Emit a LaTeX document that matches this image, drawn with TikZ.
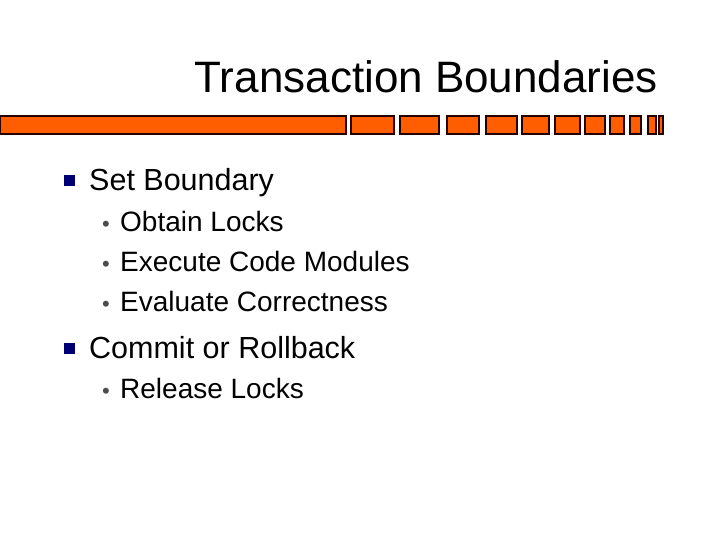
\documentclass[tikz,border=0pt]{standalone}
\usepackage{fontspec}
\setmainfont{Liberation Sans}
\begin{document}
\begin{tikzpicture}[x=1pt,y=-1pt,
  seg/.style={draw=black!85!red,line width=2pt,fill=orange!60!red!90!yellow},
  lone/.style={anchor=base west,inner sep=0pt,font=\fontsize{30.5}{32}\selectfont},
  ltwo/.style={anchor=base west,inner sep=0pt,font=\fontsize{28}{30}\selectfont},
  dot/.style={anchor=base,inner sep=0pt,font=\fontsize{22}{24}\selectfont,text=black!70},
  sq/.style={fill=blue!45!black,minimum size=11pt,inner sep=0pt}]
\useasboundingbox (0,0) rectangle (720,540);
\node[anchor=base east,inner sep=0pt,font=\fontsize{44}{48}\selectfont] (t) at (658,93) {Transaction Boundaries};
\foreach \a/\b [count=\i] in {0/346,351/394,400/439,447/479,486/517,522/549,555/580,585/605,610/624,630/641,648/656,659/663}
  \path[seg] (\a,116) rectangle (\b,134);
\node[sq] (b1) at (69,181) {};
\node[lone] (l1) at (89,191) {Set Boundary};
\node[dot] (d1) at (106,231) {•};
\node[ltwo] (s1) at (120,231) {Obtain Locks};
\node[dot] (d2) at (106,271) {•};
\node[ltwo] (s2) at (120,271) {Execute Code Modules};
\node[dot] (d3) at (106,311) {•};
\node[ltwo] (s3) at (120,311) {Evaluate Correctness};
\node[sq] (b2) at (69,348) {};
\node[lone] (l2) at (89,358) {Commit or Rollback};
\node[dot] (d4) at (106,398) {•};
\node[ltwo] (s4) at (120,398) {Release Locks};
\end{tikzpicture}
\end{document}
